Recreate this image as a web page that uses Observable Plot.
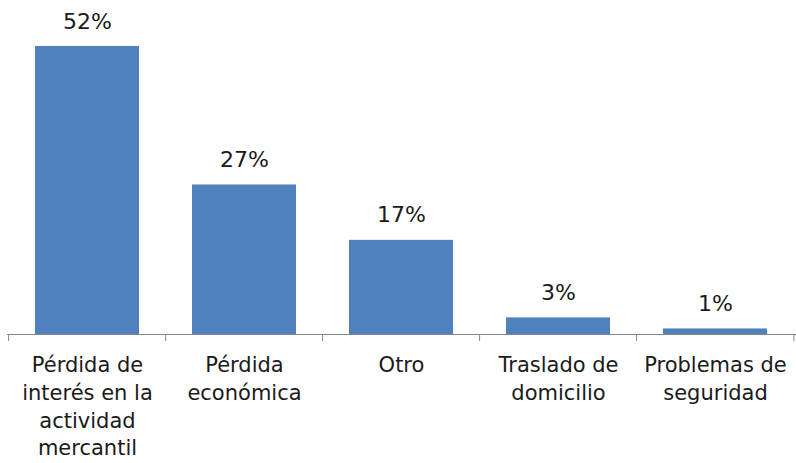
<!DOCTYPE html>
<html>
<head>
<meta charset="utf-8">
<script src="https://cdn.jsdelivr.net/npm/d3@7"></script>
<script src="https://cdn.jsdelivr.net/npm/@observablehq/plot@0.6"></script>
<style>
  html, body { margin: 0; padding: 0; background: #fff; }
  #chart svg { display: block; }
</style>
</head>
<body>
<div id="chart"></div>
<script>
const categories = [
  "Pérdida de interés en la actividad mercantil",
  "Pérdida económica",
  "Otro",
  "Traslado de domicilio",
  "Problemas de seguridad"
];
const values = [52, 27, 17, 3, 1];
const tickLabels = [
  "Pérdida de\ninterés en la\nactividad\nmercantil",
  "Pérdida\neconómica",
  "Otro",
  "Traslado de\ndomicilio",
  "Problemas de\nseguridad"
];
const valueLabels = ["52%", "27%", "17%", "3%", "1%"];

const data = categories.map((c, i) => ({category: c, value: values[i], label: valueLabels[i], tick: tickLabels[i]}));

const W = 796, H = 463;
const mL = 7, mR = 0, mT = 46, mB = 129;
const padInner = 0.335, padOuter = 0.1675;
const step = (W - mL - mR) / (categories.length - padInner + 2 * padOuter);

const chart = Plot.plot({
  width: W,
  height: H,
  marginLeft: mL,
  marginRight: mR,
  marginTop: mT,
  marginBottom: mB,
  style: {fontFamily: "'DejaVu Sans', sans-serif", background: "#fff"},
  x: {domain: categories, paddingInner: padInner, paddingOuter: padOuter, axis: null},
  y: {domain: [0, 52], axis: null},
  marks: [
    Plot.barY(data, {x: "category", y: "value", fill: "#4F81BD"}),
    Plot.ruleY([0], {stroke: "#868686", strokeWidth: 1}),
    Plot.ruleX(categories, {x: d => d, y1: 0, y2: 0, insetBottom: -7, dx: -step / 2, stroke: "#868686"}),
    Plot.ruleX([categories[categories.length - 1]], {x: d => d, y1: 0, y2: 0, insetBottom: -7, dx: step / 2 - 0.5, stroke: "#868686"}),
    Plot.text(data, {x: "category", y: "value", text: "label", dy: -18, lineAnchor: "bottom", fontSize: 22, fill: "#1a1a1a"}),
    Plot.text(data, {x: "category", y: 0, text: "tick", dy: 18, lineAnchor: "top", lineHeight: 1.32, fontSize: 21, fill: "#1a1a1a"})
  ]
});
document.getElementById("chart").append(chart);
</script>
</body>
</html>
